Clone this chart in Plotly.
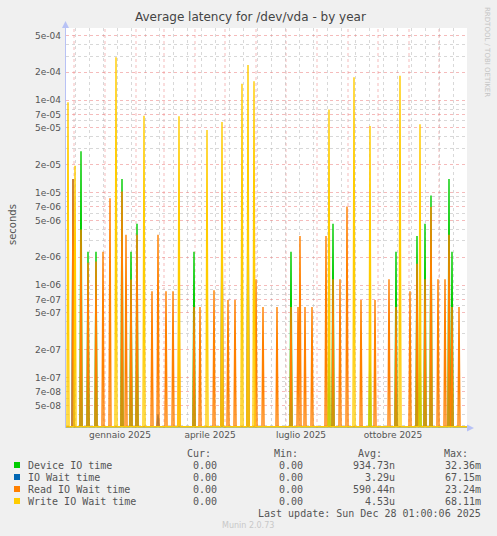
"""
Munin - Average latency for /dev/vda - by year (recreated with Plotly)
"""

import numpy as np
import pandas as pd
import plotly.graph_objects as go

# ── Data (spikes; every other day is 0) ───────────────────────────────────
device_dates = ["2024-12-08", "2024-12-15", "2024-12-23", "2025-01-18", "2025-01-27",
                "2025-02-02", "2025-03-31", "2025-07-06", "2025-08-13", "2025-08-17",
                "2025-09-23", "2025-10-19", "2025-11-09", "2025-11-12", "2025-11-17",
                "2025-11-23", "2025-12-11", "2025-12-14"]
device_vals = [2.8e-5, 2.3e-6, 2.3e-6, 1.4e-5, 2.3e-6,
               4.6e-6, 2.3e-6, 2.3e-6, 2.7e-7, 4.6e-6,
               2.3e-7, 2.3e-6, 3.4e-6, 2.3e-7, 4.6e-6,
               9.3e-6, 1.4e-5, 2.3e-6]

iowait_dates = ["2024-11-30", "2025-02-23", "2025-04-28", "2025-05-24"]
iowait_vals = [1.4e-5, 4.0e-8, 1.0e-5, 1.5e-5]

read_dates = ["2024-11-30", "2024-12-08", "2024-12-15", "2024-12-23", "2024-12-30",
              "2025-01-06", "2025-01-18", "2025-01-22", "2025-01-27", "2025-02-02",
              "2025-02-17", "2025-02-23", "2025-03-03", "2025-03-10", "2025-03-16",
              "2025-03-31", "2025-04-06", "2025-04-20", "2025-04-28", "2025-05-04",
              "2025-05-11", "2025-05-24", "2025-06-01", "2025-06-08", "2025-06-22",
              "2025-07-06", "2025-07-13", "2025-07-15", "2025-07-20", "2025-07-27",
              "2025-08-10", "2025-08-17", "2025-08-24", "2025-08-31", "2025-09-14",
              "2025-09-28", "2025-10-12", "2025-10-19", "2025-11-02", "2025-11-09",
              "2025-11-17", "2025-11-23", "2025-11-30", "2025-12-07", "2025-12-11",
              "2025-12-14", "2025-12-21"]
read_vals = [1.4e-5, 4.0e-6, 1.75e-6, 1.8e-6, 2.3e-6,
             8.7e-6, 1.03e-5, 3.5e-6, 1.15e-6, 3.5e-6,
             8.6e-7, 3.5e-6, 8.6e-7, 8.6e-7, 1.2e-6,
             5.8e-7, 5.8e-7, 8.8e-7, 5.2e-6, 6.9e-7,
             6.9e-7, 3.4e-6, 1.16e-6, 5.8e-7, 5.8e-7,
             5.8e-7, 5.8e-7, 3.4e-6, 5.8e-7, 5.8e-7,
             3.4e-6, 1.16e-6, 1.16e-6, 7.1e-6, 6.9e-7,
             6.9e-7, 1.16e-6, 5.8e-7, 8.6e-7, 1.7e-6,
             1.16e-6, 7.0e-6, 1.16e-6, 1.16e-6, 3.5e-6,
             5.8e-7, 5.8e-7]

write_dates = ["2024-11-25", "2024-12-02", "2025-01-12", "2025-02-09", "2025-03-16",
               "2025-04-13", "2025-04-28", "2025-05-18", "2025-05-24", "2025-05-30",
               "2025-08-13", "2025-09-07", "2025-09-23", "2025-10-23", "2025-11-12"]
write_vals = [9.5e-5, 1.95e-5, 2.9e-4, 6.8e-5, 6.7e-5,
              4.75e-5, 5.8e-5, 1.5e-4, 2.4e-4, 1.6e-4,
              7.9e-5, 1.77e-4, 5.25e-5, 1.84e-4, 5.5e-5]

series_names = ["Device IO time", "IO Wait time", "Read IO Wait time", "Write IO Wait time"]
cur_txt = ["0.00", "0.00", "0.00", "0.00"]
min_txt = ["0.00", "0.00", "0.00", "0.00"]
avg_txt = ["934.73n", "3.29u", "590.44n", "4.53u"]
max_txt = ["32.36m", "67.15m", "23.24m", "68.11m"]

y_tick_vals = [5e-8, 7e-8, 1e-7, 2e-7, 5e-7, 7e-7, 1e-6, 2e-6, 5e-6, 7e-6,
               1e-5, 2e-5, 5e-5, 7e-5, 1e-4, 2e-4, 5e-4]
x_label_dates = ["2025-01-16", "2025-04-16", "2025-07-16", "2025-10-16"]
x_label_text = ["gennaio 2025", "aprile 2025", "luglio 2025", "ottobre 2025"]

# ── Colours / geometry ────────────────────────────────────────────────────
COLORS = ["#00CC00", "#0066B3", "#FF8000", "#FFCC00"]
BG = "#F0F0F0"
TXT = "#555555"
MAJOR = "rgba(235,120,120,0.5)"
MINOR = "rgba(190,190,190,0.6)"
AXIS = "#B8C2F5"

W, H = 497, 536
L, R, T, B = 66, 467, 28, 428

START = pd.Timestamp("2024-11-23")
END = START + pd.Timedelta(days=401)
Y_LO, Y_HI = -7.545, -3.22
FLOOR = 10 ** -7.53


def px(x):
    return (x - L) / (R - L)


def py(y):
    return (B - y) / (B - T)


days = pd.date_range(START, END, freq="D")


def daily(dates, vals):
    s = pd.Series(0.0, index=days)
    s[pd.to_datetime(dates)] = vals
    return np.maximum(s.values, FLOOR)


all_series = [daily(device_dates, device_vals), daily(iowait_dates, iowait_vals),
              daily(read_dates, read_vals), daily(write_dates, write_vals)]

fig = go.Figure()
for name, ys, col in zip(series_names, all_series, COLORS):
    fig.add_trace(go.Scatter(x=days, y=ys, mode="lines", name=name,
                             line=dict(color=col, width=1.4), hoverinfo="skip"))

# ── Grid ──────────────────────────────────────────────────────────────────
minor_y = [m * 10.0 ** e for e in range(-8, -3) for m in (3, 4, 6, 8, 9)]
minor_y = [v for v in minor_y if Y_LO < np.log10(v) < Y_HI]

shapes = []
for d in pd.date_range("2024-12-01", "2025-12-01", freq="MS"):
    shapes.append(dict(type="line", xref="x", yref="paper", x0=d, x1=d, y0=0, y1=1,
                       line=dict(color=MAJOR, width=1, dash="dot"), layer="below"))

# axis line + arrows
shapes.append(dict(type="line", xref="paper", yref="paper", x0=px(L - 0.5), x1=px(L - 0.5),
                   y0=0, y1=py(23), line=dict(color=AXIS, width=1)))
shapes.append(dict(type="path", xref="paper", yref="paper",
                   path=f"M {px(L-4)} {py(28)} L {px(L+3)} {py(28)} L {px(L-0.5)} {py(21)} Z",
                   fillcolor=AXIS, line=dict(width=0)))
shapes.append(dict(type="path", xref="paper", yref="paper",
                   path=f"M {px(R)} {py(B-3.5)} L {px(R)} {py(B+3.5)} L {px(R+7)} {py(B)} Z",
                   fillcolor=AXIS, line=dict(width=0)))

# legend squares
ROW_Y = [465, 477, 489, 501]
for col, ry in zip(COLORS, ROW_Y):
    shapes.append(dict(type="rect", xref="paper", yref="paper",
                       x0=px(14), x1=px(20), y0=py(ry + 3), y1=py(ry - 3),
                       fillcolor=col, line=dict(width=0)))

# ── Texts ─────────────────────────────────────────────────────────────────
MONO = dict(family="DejaVu Sans Mono", size=10, color=TXT)
ann = []


def text(x, y, s, anchor="left", font=MONO, **kw):
    ann.append(dict(x=px(x), y=py(y), xref="paper", yref="paper", text=s,
                    showarrow=False, xanchor=anchor, yanchor="middle", font=font, **kw))


text(250, 17, "Average latency for /dev/vda - by year", "center",
     dict(family="DejaVu Sans", size=12, color="#444444"))
text(12, 225, "seconds", "center", dict(family="DejaVu Sans", size=10, color=TXT), textangle=-90)
text(487, 52, "RRDTOOL / TOBI OETIKER", "center",
     dict(family="DejaVu Sans", size=7, color="#C4C4C4"), textangle=90)

for hx, h in zip([213, 300, 384, 470], ["Cur:", "Min:", "Avg:", "Max:"]):
    text(hx, 453, h, "right")
for i, ry in enumerate(ROW_Y):
    text(26, ry, series_names[i])
    text(219, ry, cur_txt[i], "right")
    text(305, ry, min_txt[i], "right")
    text(397, ry, avg_txt[i], "right")
    text(483, ry, max_txt[i], "right")
text(483, 513, "Last update: Sun Dec 28 01:00:06 2025", "right")
text(248, 525, "Munin 2.0.73", "center", dict(family="DejaVu Sans", size=8, color="#C8C8C8"))

# ── Layout ────────────────────────────────────────────────────────────────
fig.update_layout(
    width=W, height=H,
    paper_bgcolor=BG, plot_bgcolor="white",
    margin=dict(l=L, r=W - R, t=T, b=H - B, pad=0),
    showlegend=False,
    font=dict(family="DejaVu Sans", size=9, color=TXT),
    shapes=shapes, annotations=ann,
)
fig.update_xaxes(
    type="date", range=[START, END],
    tickvals=pd.to_datetime(x_label_dates), ticktext=x_label_text,
    tickfont=dict(family="DejaVu Sans", size=9, color=TXT),
    showgrid=False, zeroline=False, showline=False, ticks="",
    minor=dict(tick0="2024-12-02", dtick=14 * 86400000, showgrid=True,
               gridcolor=MINOR, griddash="dot", gridwidth=1, ticks=""),
)
fig.update_yaxes(
    type="log", range=[Y_LO, Y_HI],
    tickvals=y_tick_vals, ticktext=[f"{v:.0e}" for v in y_tick_vals],
    tickfont=dict(family="DejaVu Sans", size=9, color=TXT),
    showgrid=True, gridcolor=MAJOR, griddash="dot", gridwidth=1,
    zeroline=False, showline=False, ticks="", ticklabelstandoff=4,
    minor=dict(tickvals=minor_y, showgrid=True, gridcolor=MINOR,
               griddash="dot", gridwidth=1, ticks=""),
)

# page margin off so the figure sits at the window's top-left corner
fig.write_html("out.html", config={"displayModeBar": False},
               post_script="document.body.style.margin='0';")
